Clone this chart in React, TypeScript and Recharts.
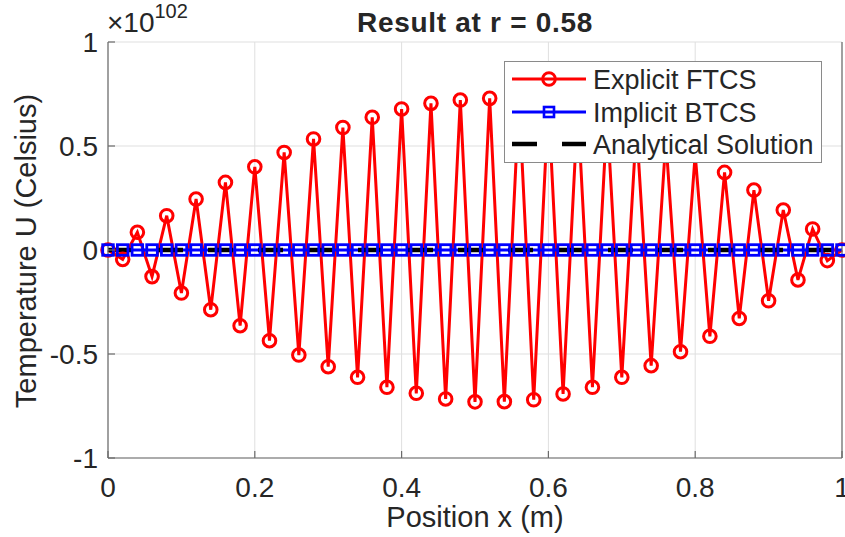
import React from 'react';
import { LineChart, Line, XAxis, YAxis, CartesianGrid } from 'recharts';

const positions = [
  0, 0.02, 0.04, 0.06, 0.08, 0.1, 0.12, 0.14, 0.16, 0.18,
  0.2, 0.22, 0.24, 0.26, 0.28, 0.3, 0.32, 0.34, 0.36, 0.38,
  0.4, 0.42, 0.44, 0.46, 0.48, 0.5, 0.52, 0.54, 0.56, 0.58,
  0.6, 0.62, 0.64, 0.66, 0.68, 0.7, 0.72, 0.74, 0.76, 0.78,
  0.8, 0.82, 0.84, 0.86, 0.88, 0.9, 0.92, 0.94, 0.96, 0.98, 1,
];

const explicitFTCS = [
  0, -0.045, 0.085, -0.128, 0.165, -0.207, 0.245, -0.287, 0.325, -0.364,
  0.4, -0.436, 0.469, -0.505, 0.534, -0.561, 0.589, -0.612, 0.638, -0.66,
  0.678, -0.689, 0.705, -0.716, 0.721, -0.73, 0.729, -0.729, 0.725, -0.72,
  0.71, -0.692, 0.685, -0.66, 0.645, -0.612, 0.597, -0.556, 0.53, -0.489,
  0.46, -0.415, 0.373, -0.329, 0.288, -0.244, 0.192, -0.144, 0.101, -0.051, 0,
];

const implicitBTCS = [
  0, 0, 0, 0, 0, 0, 0, 0, 0, 0,
  0, 0, 0, 0, 0, 0, 0, 0, 0, 0,
  0, 0, 0, 0, 0, 0, 0, 0, 0, 0,
  0, 0, 0, 0, 0, 0, 0, 0, 0, 0,
  0, 0, 0, 0, 0, 0, 0, 0, 0, 0, 0,
];

const analyticalSolution = [
  0, 0, 0, 0, 0, 0, 0, 0, 0, 0,
  0, 0, 0, 0, 0, 0, 0, 0, 0, 0,
  0, 0, 0, 0, 0, 0, 0, 0, 0, 0,
  0, 0, 0, 0, 0, 0, 0, 0, 0, 0,
  0, 0, 0, 0, 0, 0, 0, 0, 0, 0, 0,
];

const xTicks = [0, 0.2, 0.4, 0.6, 0.8, 1];
const yTicks = [-1, -0.5, 0, 0.5, 1];

const seriesNames = ['Explicit FTCS', 'Implicit BTCS', 'Analytical Solution'];
const titleText = 'Result at r = 0.58';
const xLabel = 'Position x (m)';
const yLabel = 'Temperature U (Celsius)';

const data = positions.map((x, i) => ({
  x,
  explicit: explicitFTCS[i],
  implicit: implicitBTCS[i],
  analytical: analyticalSolution[i],
}));

const FONT = '"Liberation Sans", Arial, Helvetica, sans-serif';
const TEXT = '#262626';
const AXIS = '#6b6b6b';
const GRID = '#dfdfdf';
const RED = '#ff0000';
const BLUE = '#0000ff';

const BottomTick = (p: any) => (
  <g>
    <line x1={p.x} x2={p.x} y1={p.y} y2={p.y - 7} stroke={AXIS} strokeWidth={1.2} />
    <text x={p.x} y={p.y + 39} textAnchor="middle" fontSize={28} fill={TEXT} fontFamily={FONT}>
      {String(p.payload.value)}
    </text>
  </g>
);

const LeftTick = (p: any) => (
  <g>
    <line x1={p.x} x2={p.x + 7} y1={p.y} y2={p.y} stroke={AXIS} strokeWidth={1.2} />
    <text x={p.x - 10} y={p.y + 10} textAnchor="end" fontSize={28} fill={TEXT} fontFamily={FONT}>
      {String(p.payload.value)}
    </text>
  </g>
);

const TopTick = (p: any) => (
  <line x1={p.x} x2={p.x} y1={p.y} y2={p.y + 7} stroke={AXIS} strokeWidth={1.2} />
);

const RightTick = (p: any) => (
  <line x1={p.x} x2={p.x - 7} y1={p.y} y2={p.y} stroke={AXIS} strokeWidth={1.2} />
);

const SquareDot = (p: any) => (
  <rect
    key={`sq-${p.index}`}
    x={p.cx - 5.3}
    y={p.cy - 5.3}
    width={10.6}
    height={10.6}
    fill="none"
    stroke={BLUE}
    strokeWidth={2.8}
  />
);

const LegendBox = () => (
  <div
    style={{
      position: 'absolute',
      left: 504,
      top: 61,
      width: 318,
      height: 102,
      boxSizing: 'border-box',
      border: '1.5px solid #8a8a8a',
      background: '#ffffff',
      fontFamily: FONT,
      fontSize: 27,
      color: TEXT,
    }}
  >
    <svg width={318} height={102} style={{ position: 'absolute', left: -1, top: -1 }}>
      <line x1={8} x2={82} y1={18} y2={18} stroke={RED} strokeWidth={3} />
      <circle cx={45} cy={18} r={6.3} fill="none" stroke={RED} strokeWidth={3} />
      <line x1={8} x2={82} y1={51} y2={51} stroke={BLUE} strokeWidth={3} />
      <rect x={40} y={46} width={10} height={10} fill="none" stroke={BLUE} strokeWidth={2.6} />
      <line x1={8} x2={33} y1={83} y2={83} stroke="#000" strokeWidth={4.5} />
      <line x1={58} x2={82} y1={83} y2={83} stroke="#000" strokeWidth={4.5} />
      <text x={89} y={27.5} fontSize={27} fill={TEXT} fontFamily={FONT}>{seriesNames[0]}</text>
      <text x={89} y={60.5} fontSize={27} fill={TEXT} fontFamily={FONT}>{seriesNames[1]}</text>
      <text x={89} y={92.5} fontSize={27} fill={TEXT} fontFamily={FONT}>{seriesNames[2]}</text>
    </svg>
  </div>
);

export default function App() {
  return (
    <div style={{ position: 'absolute', left: 0, top: 0, width: 845, height: 537, background: '#ffffff' }}>
      <LineChart
        width={845}
        height={537}
        data={data}
        margin={{ top: 42, right: 0, bottom: 0, left: 0 }}
      >
        <CartesianGrid stroke={GRID} strokeWidth={1} />
        <XAxis
          dataKey="x"
          type="number"
          domain={[0, 1]}
          ticks={xTicks}
          height={79}
          tickSize={0}
          tickMargin={0}
          tickLine={false}
          axisLine={{ stroke: AXIS, strokeWidth: 1.2 }}
          tick={<BottomTick />}
          interval={0}
        />
        <XAxis
          xAxisId="top"
          orientation="top"
          dataKey="x"
          type="number"
          domain={[0, 1]}
          ticks={xTicks}
          height={0}
          tickSize={0}
          tickMargin={0}
          tickLine={false}
          axisLine={{ stroke: AXIS, strokeWidth: 1.2 }}
          tick={<TopTick />}
          interval={0}
        />
        <YAxis
          type="number"
          domain={[-1, 1]}
          ticks={yTicks}
          width={108}
          tickSize={0}
          tickMargin={0}
          tickLine={false}
          axisLine={{ stroke: AXIS, strokeWidth: 1.2 }}
          tick={<LeftTick />}
          interval={0}
        />
        <YAxis
          yAxisId="right"
          orientation="right"
          type="number"
          domain={[-1, 1]}
          ticks={yTicks}
          width={3}
          tickSize={0}
          tickMargin={0}
          tickLine={false}
          axisLine={{ stroke: AXIS, strokeWidth: 1.2 }}
          tick={<RightTick />}
          interval={0}
        />
        <Line
          dataKey="explicit"
          type="linear"
          stroke={RED}
          strokeWidth={3}
          dot={{ r: 6.3, stroke: RED, strokeWidth: 3, fill: 'none' }}
          isAnimationActive={false}
        />
        <Line
          dataKey="implicit"
          type="linear"
          stroke={BLUE}
          strokeWidth={3}
          dot={SquareDot}
          isAnimationActive={false}
        />
        <Line
          dataKey="analytical"
          type="linear"
          stroke="#000000"
          strokeWidth={4.5}
          strokeDasharray="25 25"
          dot={false}
          isAnimationActive={false}
        />
      </LineChart>
      <svg
        width={845}
        height={537}
        style={{ position: 'absolute', left: 0, top: 0, pointerEvents: 'none' }}
      >
        <text x={475} y={32} textAnchor="middle" fontSize={28} fontWeight="bold" letterSpacing={0.7} fill={TEXT} fontFamily={FONT}>
          {titleText}
        </text>
        <text x={107} y={32} fontSize={28} fill={TEXT} fontFamily={FONT}>
          {'×10'}
          <tspan fontSize={20} dy={-14}>102</tspan>
        </text>
        <text x={475} y={527} textAnchor="middle" fontSize={29} fill={TEXT} fontFamily={FONT}>
          {xLabel}
        </text>
        <text transform="rotate(-90)" x={-251} y={36} textAnchor="middle" fontSize={29} fill={TEXT} fontFamily={FONT}>
          {yLabel}
        </text>
      </svg>
      <LegendBox />
    </div>
  );
}
